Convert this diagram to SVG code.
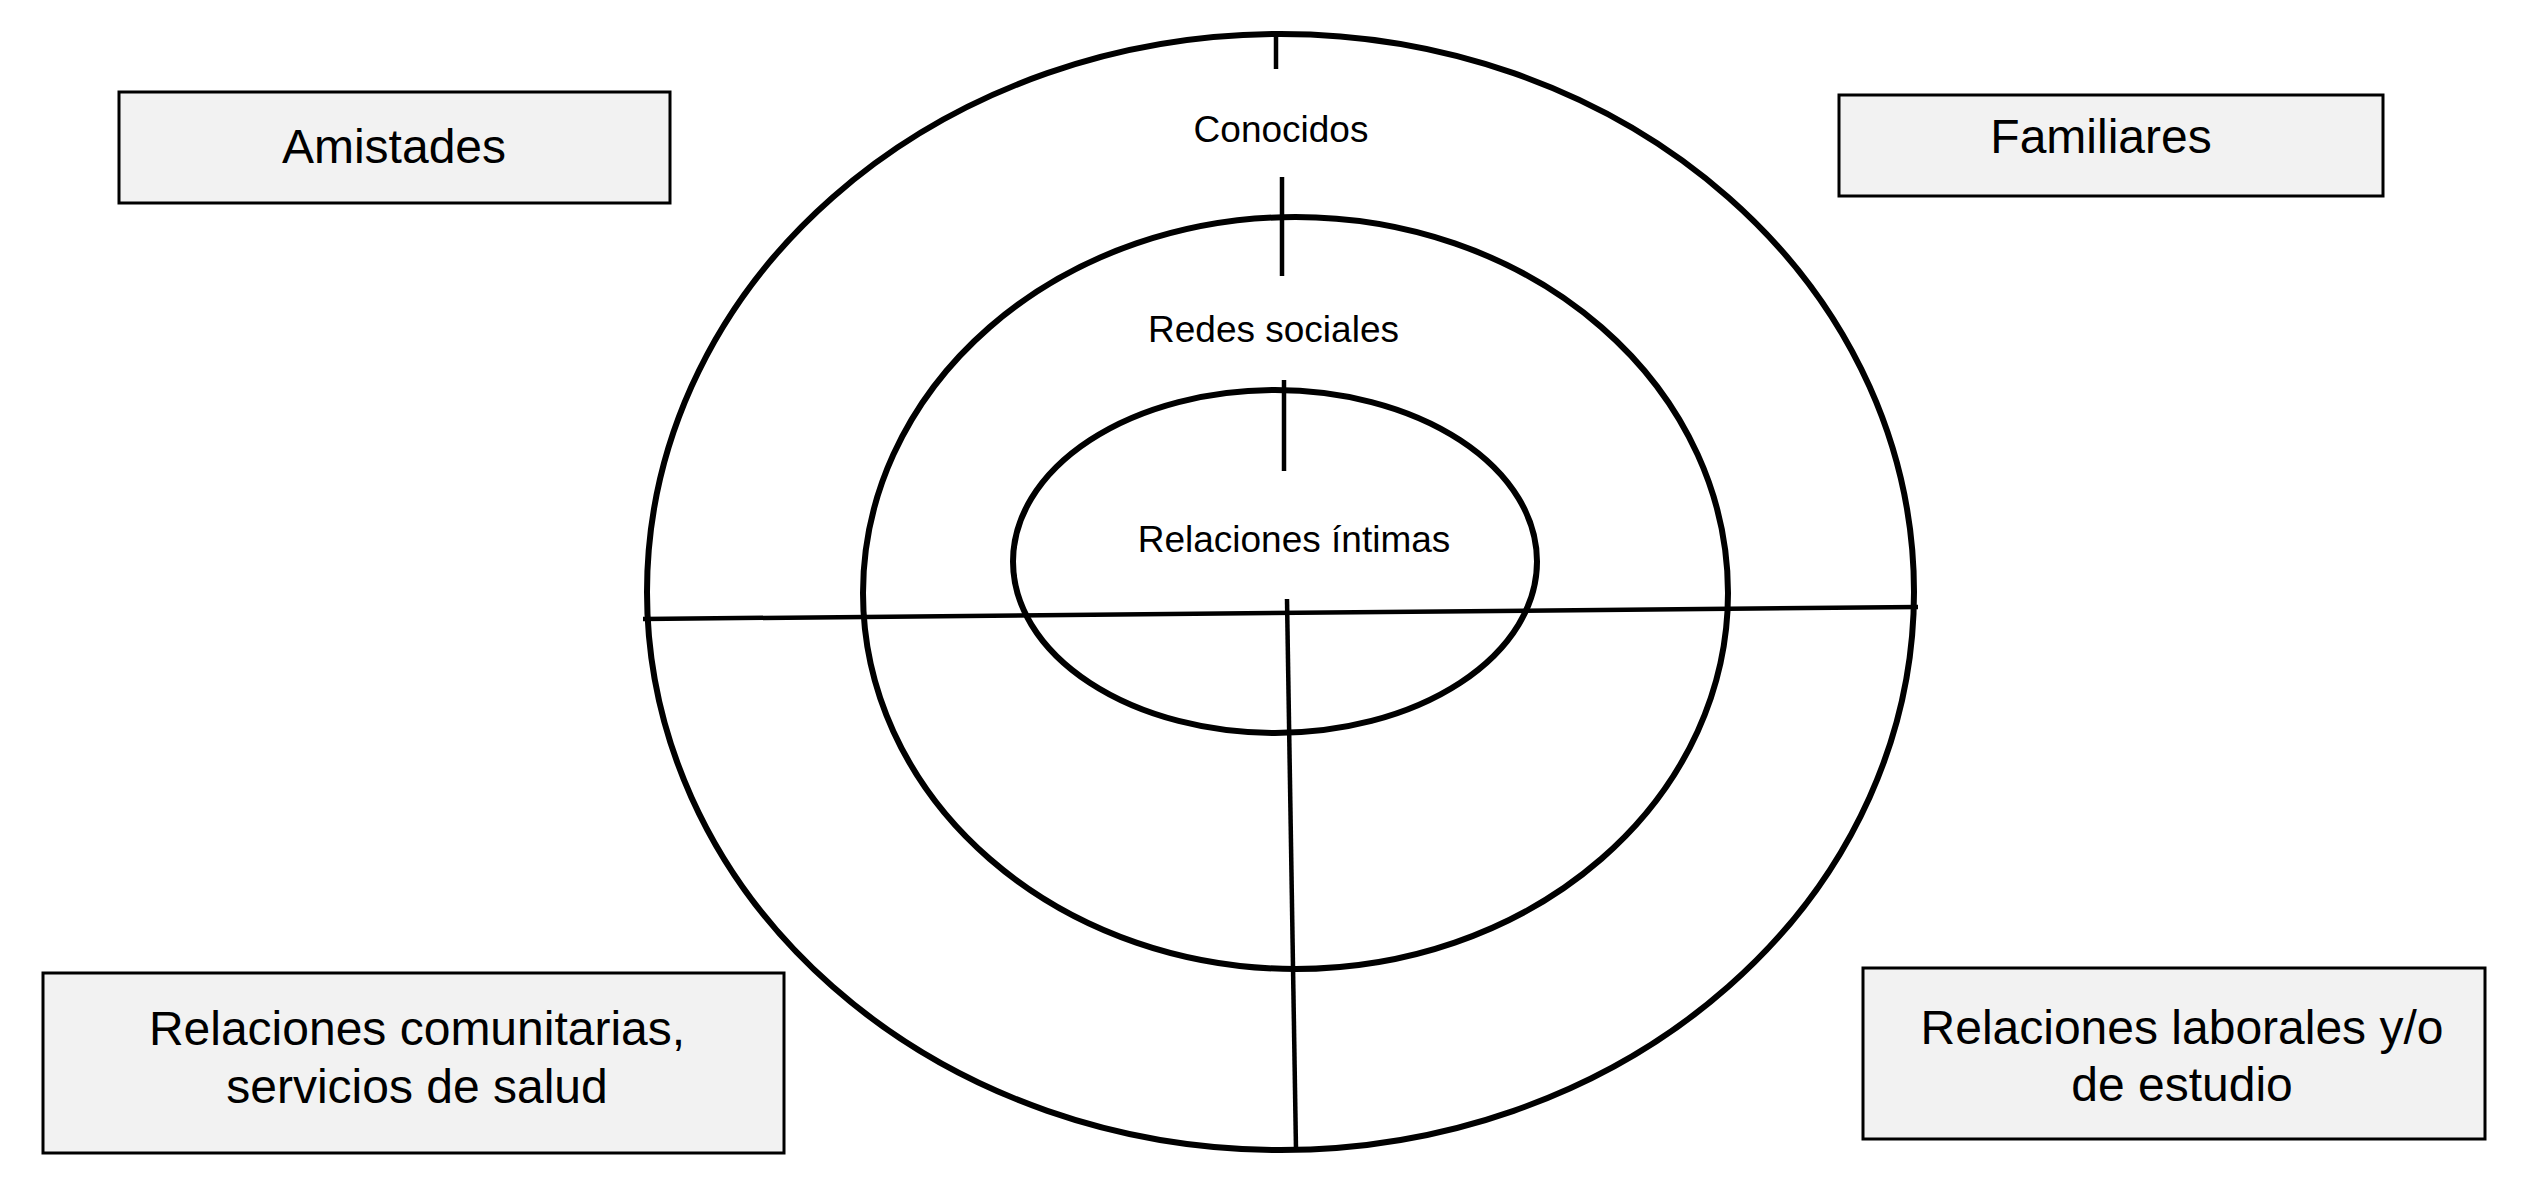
<svg xmlns="http://www.w3.org/2000/svg" width="2525" height="1204" viewBox="0 0 2525 1204">
<style>
.ring{fill:none;stroke:#000;stroke-width:6}
.ln{stroke:#000;stroke-width:4.5;fill:none}
.box{fill:#f2f2f2;stroke:#000;stroke-width:3}
.lbl{font-family:"Liberation Sans",Arial,sans-serif;font-size:48px;fill:#000;text-anchor:middle}
.rl{font-family:"Liberation Sans",Arial,sans-serif;font-size:37px;fill:#000;text-anchor:middle}
</style>
<rect width="2525" height="1204" fill="#fff"/>
<g id="rings">
<ellipse id="outer" class="ring" cx="1280.5" cy="592" rx="633.5" ry="558"/>
<ellipse id="middle" class="ring" cx="1295.5" cy="593" rx="432.5" ry="376"/>
<ellipse id="inner" class="ring" cx="1275" cy="561.5" rx="262" ry="171.5"/>
</g>
<g id="connectors">
<line class="ln" x1="643" y1="619" x2="1918" y2="607"/>
<line class="ln" x1="1287" y1="599" x2="1296" y2="1150"/>
<line class="ln" x1="1276" y1="34" x2="1276" y2="69"/>
<line class="ln" x1="1282" y1="177" x2="1282" y2="276"/>
<line class="ln" x1="1284" y1="380" x2="1284" y2="471"/>
</g>
<g id="ring-labels">
<text class="rl" x="1281" y="142">Conocidos</text>
<text class="rl" x="1273.5" y="342">Redes sociales</text>
<text class="rl" x="1294" y="552">Relaciones íntimas</text>
</g>
<g id="amistades">
<rect class="box" x="119" y="92" width="551" height="111"/>
<text class="lbl" x="394" y="163">Amistades</text>
</g>
<g id="familiares">
<rect class="box" x="1839" y="95" width="544" height="101"/>
<text class="lbl" x="2101" y="153">Familiares</text>
</g>
<g id="comunitarias">
<rect class="box" x="43" y="973" width="741" height="180"/>
<text class="lbl" x="417" y="1045">Relaciones comunitarias,</text>
<text class="lbl" x="417" y="1103">servicios de salud</text>
</g>
<g id="laborales">
<rect class="box" x="1863" y="968" width="622" height="171"/>
<text class="lbl" x="2182" y="1044">Relaciones laborales y/o</text>
<text class="lbl" x="2182" y="1101">de estudio</text>
</g>
</svg>
